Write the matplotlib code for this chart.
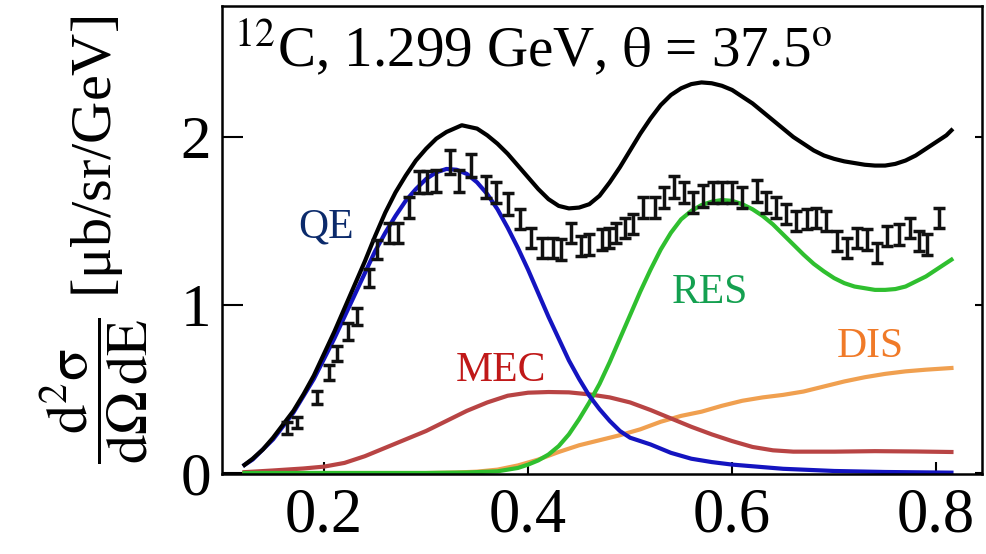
#!/usr/bin/env python3

import matplotlib
matplotlib.use('Agg')
import matplotlib.pyplot as plt

plt.rcParams['font.family'] = ['Liberation Serif', 'DejaVu Serif']
plt.rcParams['mathtext.fontset'] = 'stix'

# Theory curves (energy transfer in GeV)
x_tot = [0.122, 0.13, 0.14, 0.15, 0.16, 0.17, 0.18, 0.19, 0.20, 0.21, 0.22, 0.23, 0.24, 0.25,
         0.26, 0.27, 0.28, 0.29, 0.30, 0.31, 0.32, 0.335, 0.35, 0.36, 0.37, 0.38, 0.39, 0.40,
         0.41, 0.42, 0.43, 0.44, 0.45, 0.46, 0.47, 0.48, 0.49, 0.50, 0.51, 0.52, 0.53, 0.54,
         0.55, 0.56, 0.57, 0.58, 0.59, 0.60, 0.61, 0.62, 0.63, 0.64, 0.65, 0.66, 0.67, 0.68,
         0.69, 0.70, 0.71, 0.72, 0.73, 0.74, 0.75, 0.76, 0.77, 0.78, 0.79, 0.80, 0.81, 0.815]
y_tot = [0.048, 0.085, 0.14, 0.21, 0.29, 0.37, 0.47, 0.58, 0.71, 0.84, 0.98, 1.12, 1.26, 1.41,
         1.55, 1.67, 1.77, 1.86, 1.93, 1.99, 2.03, 2.07, 2.05, 2.01, 1.96, 1.90, 1.83, 1.76,
         1.69, 1.63, 1.59, 1.575, 1.58, 1.60, 1.65, 1.73, 1.82, 1.92, 2.02, 2.11, 2.19, 2.25,
         2.29, 2.315, 2.325, 2.32, 2.305, 2.28, 2.24, 2.20, 2.15, 2.10, 2.05, 2.00, 1.96, 1.92,
         1.89, 1.87, 1.855, 1.845, 1.835, 1.83, 1.83, 1.84, 1.86, 1.89, 1.93, 1.97, 2.01, 2.04]

x_qe = [0.122, 0.13, 0.14, 0.15, 0.16, 0.17, 0.18, 0.19, 0.20, 0.21, 0.22, 0.23, 0.24, 0.25,
        0.26, 0.27, 0.28, 0.29, 0.30, 0.31, 0.32, 0.33, 0.34, 0.35, 0.36, 0.37, 0.38, 0.39,
        0.40, 0.41, 0.42, 0.43, 0.44, 0.45, 0.46, 0.47, 0.48, 0.49, 0.50, 0.52, 0.54, 0.56,
        0.58, 0.60, 0.65, 0.70, 0.75, 0.815]
y_qe = [0.048, 0.08, 0.14, 0.20, 0.28, 0.36, 0.46, 0.56, 0.68, 0.80, 0.93, 1.06, 1.19, 1.32,
        1.43, 1.53, 1.62, 1.69, 1.75, 1.79, 1.81, 1.805, 1.78, 1.73, 1.66, 1.57, 1.46, 1.34,
        1.21, 1.07, 0.93, 0.80, 0.67, 0.56, 0.46, 0.38, 0.31, 0.25, 0.21, 0.17, 0.12, 0.085,
        0.065, 0.05, 0.025, 0.012, 0.006, 0.002]

x_mec = [0.122, 0.15, 0.18, 0.20, 0.22, 0.24, 0.26, 0.28, 0.30, 0.32, 0.34, 0.36, 0.38, 0.40,
         0.42, 0.44, 0.46, 0.48, 0.50, 0.52, 0.54, 0.56, 0.58, 0.60, 0.62, 0.64, 0.66, 0.70,
         0.74, 0.78, 0.815]
y_mec = [0.005, 0.015, 0.027, 0.038, 0.06, 0.10, 0.15, 0.20, 0.25, 0.31, 0.37, 0.42, 0.46, 0.478,
         0.482, 0.48, 0.468, 0.45, 0.42, 0.375, 0.325, 0.275, 0.23, 0.19, 0.155, 0.135, 0.127, 0.127,
         0.13, 0.128, 0.125]

x_res = [0.122, 0.30, 0.34, 0.37, 0.39, 0.40, 0.41, 0.42, 0.43, 0.44, 0.45, 0.46, 0.47, 0.48,
         0.49, 0.50, 0.51, 0.52, 0.53, 0.54, 0.55, 0.56, 0.57, 0.58, 0.59, 0.60, 0.61, 0.62,
         0.63, 0.64, 0.65, 0.66, 0.67, 0.68, 0.69, 0.70, 0.71, 0.72, 0.73, 0.74, 0.75, 0.76,
         0.77, 0.78, 0.79, 0.80, 0.815]
y_res = [0.0, 0.0, 0.003, 0.01, 0.03, 0.05, 0.075, 0.11, 0.16, 0.23, 0.32, 0.42, 0.53, 0.66,
         0.80, 0.94, 1.08, 1.21, 1.33, 1.43, 1.51, 1.56, 1.595, 1.615, 1.625, 1.62, 1.60, 1.57,
         1.53, 1.48, 1.42, 1.36, 1.30, 1.245, 1.20, 1.16, 1.13, 1.11, 1.10, 1.09, 1.09, 1.095,
         1.11, 1.14, 1.17, 1.21, 1.27]

x_dis = [0.122, 0.30, 0.33, 0.35, 0.37, 0.39, 0.41, 0.43, 0.45, 0.47, 0.49, 0.51, 0.53, 0.55,
         0.57, 0.59, 0.61, 0.63, 0.65, 0.67, 0.69, 0.71, 0.73, 0.75, 0.77, 0.79, 0.815]
y_dis = [0.0, 0.0, 0.003, 0.008, 0.02, 0.045, 0.08, 0.125, 0.165, 0.195, 0.225, 0.26, 0.305, 0.34,
         0.365, 0.40, 0.43, 0.45, 0.465, 0.485, 0.515, 0.545, 0.57, 0.59, 0.605, 0.615, 0.625]

# Measured cross section with uncertainties
x_data = [0.164, 0.173, 0.193, 0.205, 0.213, 0.223, 0.232, 0.244, 0.252, 0.264, 0.272, 0.283,
          0.293, 0.301, 0.31, 0.323, 0.332, 0.344, 0.359, 0.369, 0.38, 0.392, 0.403, 0.414,
          0.424, 0.432, 0.442, 0.452, 0.46, 0.472, 0.479, 0.486, 0.495, 0.503, 0.513, 0.524,
          0.533, 0.543, 0.553, 0.562, 0.571, 0.581, 0.59, 0.60, 0.61, 0.624, 0.633, 0.643,
          0.653, 0.663, 0.673, 0.682, 0.692, 0.703, 0.713, 0.722, 0.732, 0.742, 0.752, 0.764,
          0.774, 0.783, 0.791, 0.803]
y_data = [0.27, 0.30, 0.45, 0.60, 0.71, 0.84, 0.93, 1.16, 1.33, 1.43, 1.43, 1.58,
          1.73, 1.73, 1.74, 1.85, 1.74, 1.83, 1.70, 1.67, 1.60, 1.51, 1.40, 1.34,
          1.34, 1.33, 1.43, 1.35, 1.36, 1.39, 1.40, 1.43, 1.46, 1.48, 1.58, 1.58,
          1.64, 1.70, 1.67, 1.61, 1.65, 1.67, 1.67, 1.67, 1.64, 1.68, 1.61, 1.58,
          1.54, 1.50, 1.51, 1.52, 1.50, 1.38, 1.34, 1.40, 1.39, 1.31, 1.41, 1.42,
          1.46, 1.38, 1.36, 1.52]
e_data = [0.035, 0.035, 0.04, 0.045, 0.045, 0.05, 0.05, 0.055, 0.055, 0.06, 0.06, 0.06,
          0.065, 0.065, 0.065, 0.07, 0.065, 0.07, 0.065, 0.065, 0.065, 0.06, 0.06, 0.06,
          0.06, 0.06, 0.06, 0.06, 0.06, 0.06, 0.06, 0.06, 0.06, 0.06, 0.065, 0.065,
          0.065, 0.065, 0.065, 0.065, 0.065, 0.065, 0.065, 0.065, 0.065, 0.065, 0.065, 0.065,
          0.06, 0.06, 0.06, 0.06, 0.06, 0.06, 0.06, 0.06, 0.06, 0.06, 0.06, 0.06,
          0.06, 0.06, 0.06, 0.06]

fig = plt.figure(figsize=(9.86, 5.54), dpi=100)
ax = fig.add_axes([0.2252, 0.1444, 0.7708, 0.8448])

ax.plot(x_dis, y_dis, color='#f0a050', lw=3, solid_joinstyle='round')
ax.plot(x_mec, y_mec, color='#b84444', lw=3, solid_joinstyle='round')
ax.plot(x_res, y_res, color='#2fbf2f', lw=3, solid_joinstyle='round')
ax.plot(x_qe, y_qe, color='#1414c0', lw=3, solid_joinstyle='round')
ax.plot(x_tot, y_tot, color='black', lw=3, solid_joinstyle='round')
ax.errorbar(x_data, y_data, yerr=e_data, fmt='none', ecolor='#111111',
            elinewidth=2.5, capsize=4, capthick=2.5)

ax.text(0.202, 1.46, 'QE', color='#0b2a6b', fontsize=30, ha='center', va='center')
ax.text(0.373, 0.61, 'MEC', color='#c01818', fontsize=30, ha='center', va='center')
ax.text(0.578, 1.07, 'RES', color='#14a050', fontsize=30, ha='center', va='center')
ax.text(0.735, 0.75, 'DIS', color='#f07a28', fontsize=30, ha='center', va='center')

ax.text(0.112, 2.42, r'$^{12}$C, 1.299 GeV, $\mathrm{\theta}$ = 37.5$^{\mathrm{o}}$',
        fontsize=41, ha='left', va='baseline')

ax.set_xlim(0.1, 0.845)
ax.set_ylim(-0.006, 2.78)
ax.set_xticks([0.2, 0.4, 0.6, 0.8])
ax.set_xticklabels(['0.2', '0.4', '0.6', '0.8'])
ax.set_yticks([0, 1, 2])
ax.set_yticklabels(['0', '1', '2'])

ax.tick_params(axis='x', direction='in', length=9, width=1.5, labelsize=45, pad=10)
ax.tick_params(axis='y', direction='in', length=15, width=1.5, labelsize=44, pad=8)
ax.tick_params(axis='y', which='major', right=True)
for t in ax.yaxis.get_ticklines()[1::2]:
    t.set_marker(0)
    t.set_markersize(5)

for s in ax.spines.values():
    s.set_linewidth(1.8)

ax.set_ylabel(r'$\dfrac{\mathrm{d^2\sigma}}{\mathrm{d\Omega\,dE}}$ [μb/sr/GeV]',
              fontsize=42, labelpad=22)

plt.savefig('out.png', dpi=100)
plt.close()
